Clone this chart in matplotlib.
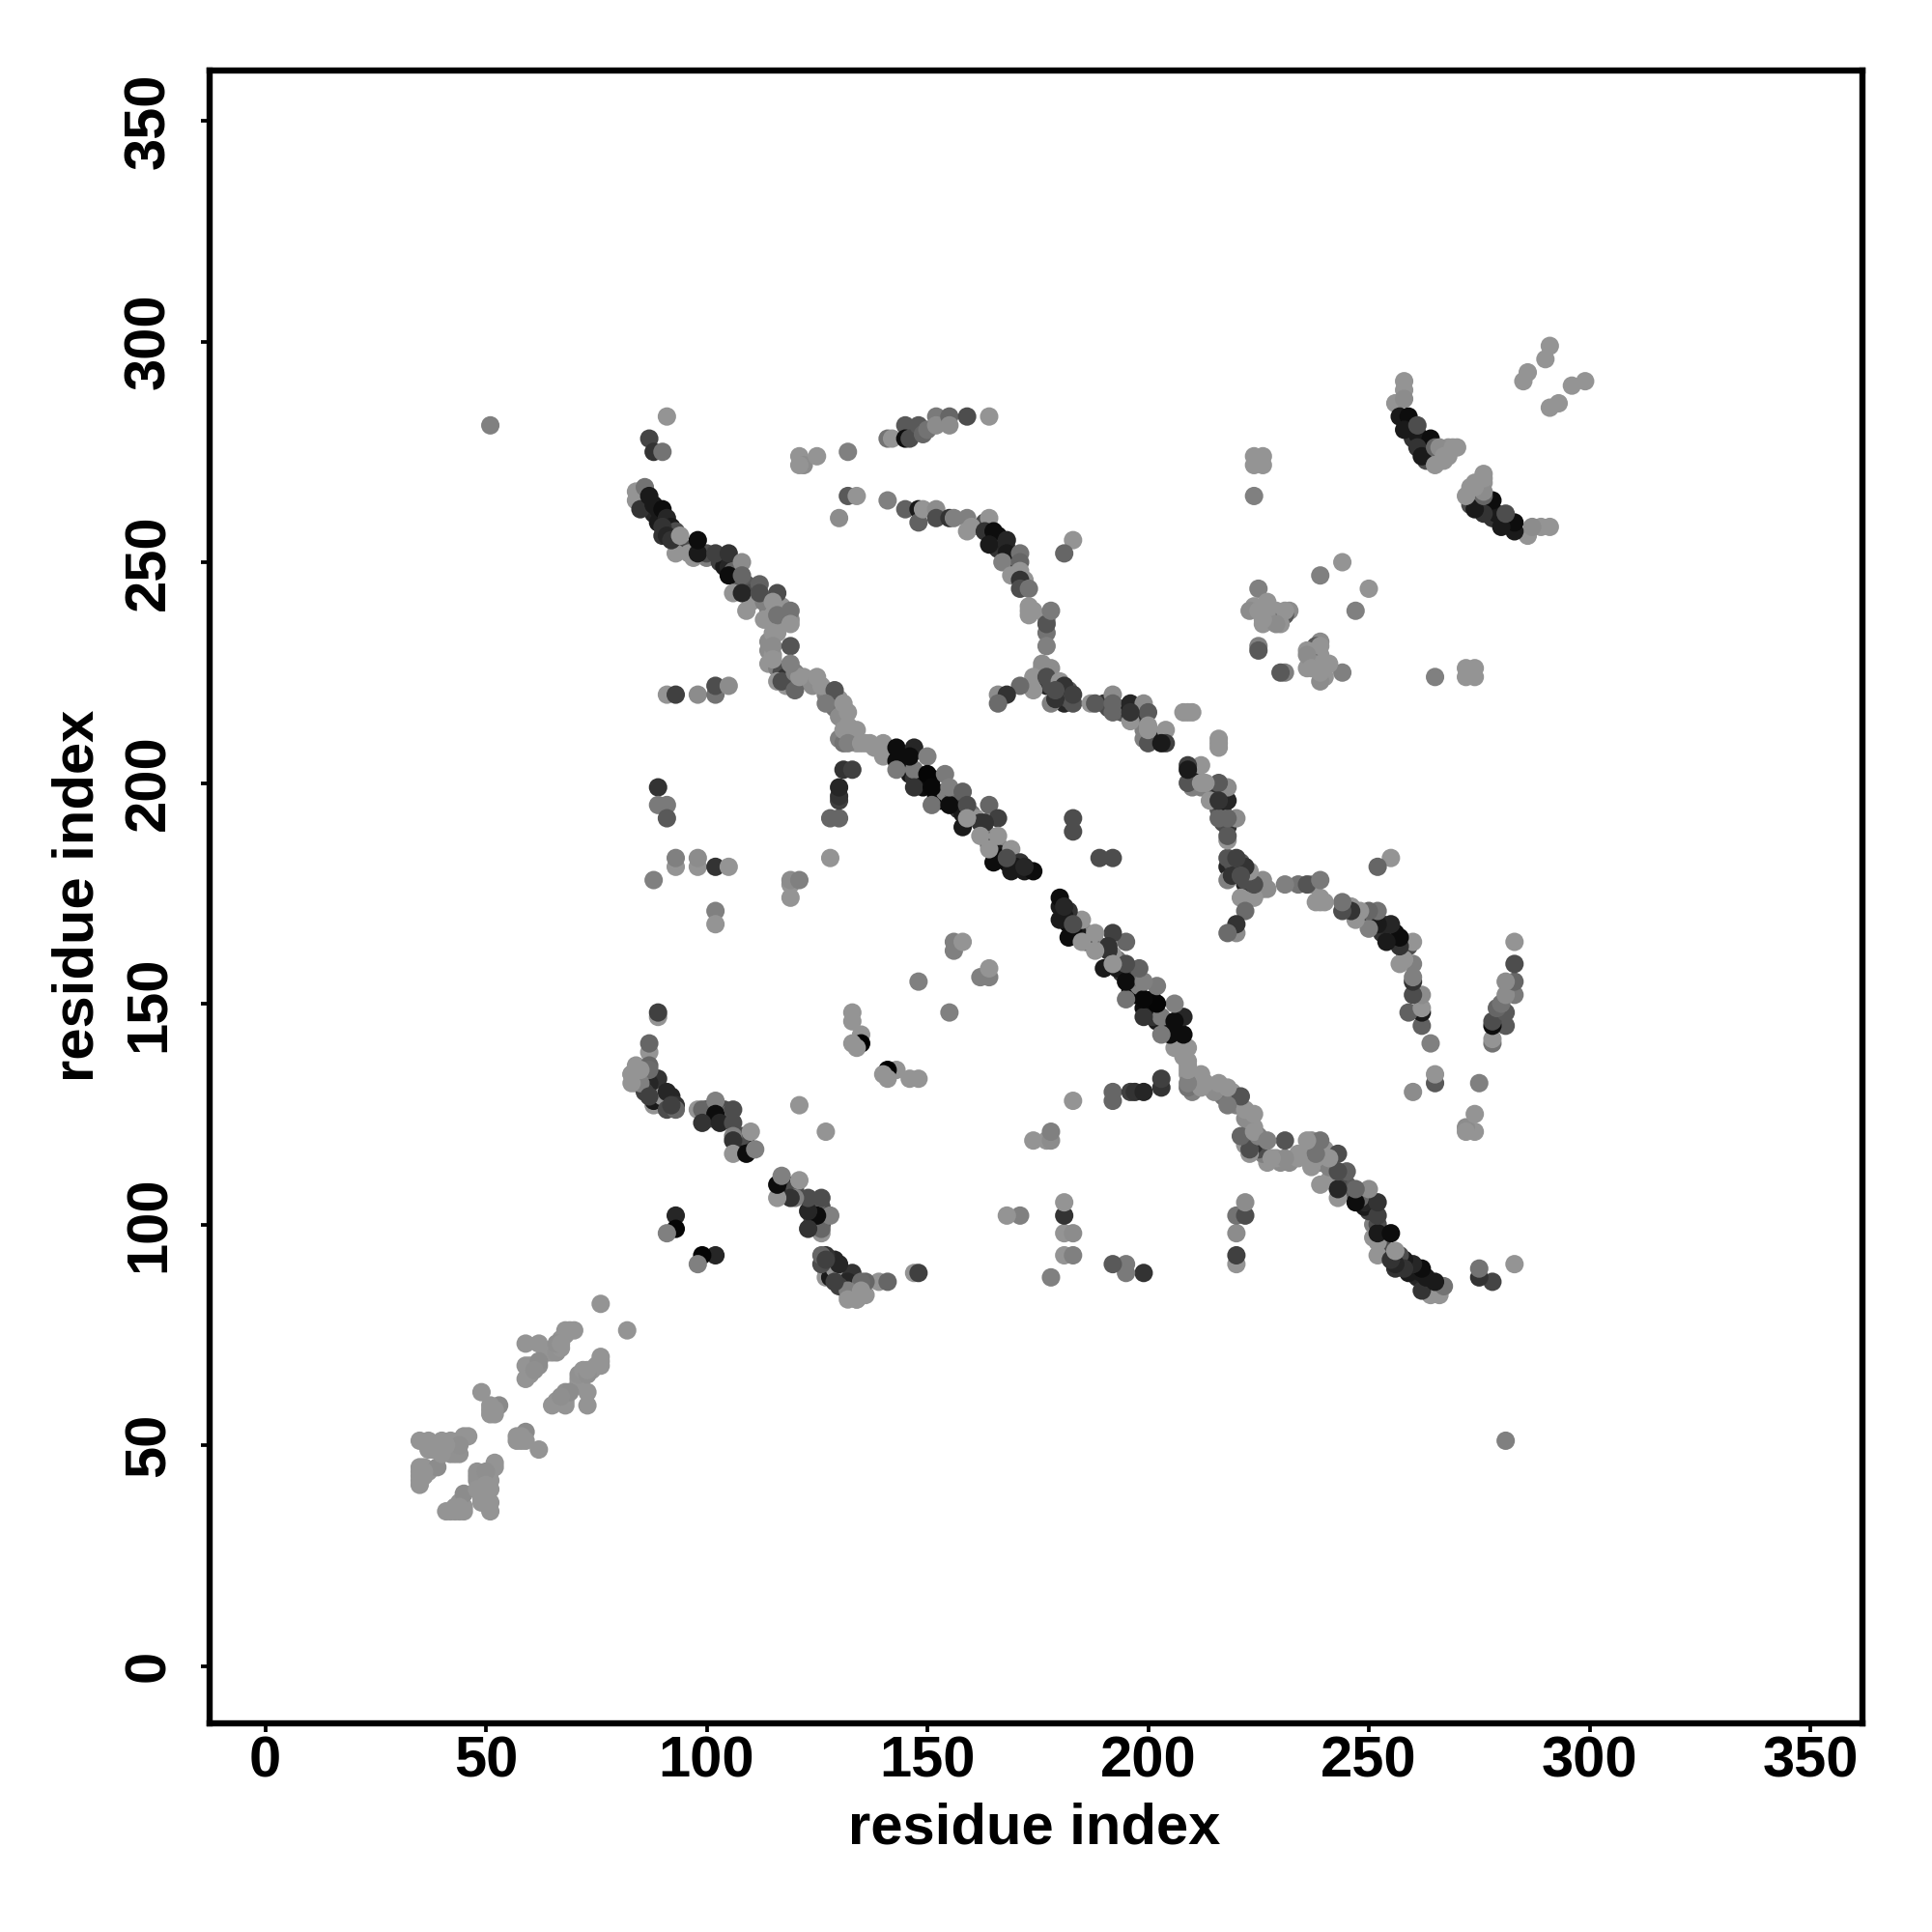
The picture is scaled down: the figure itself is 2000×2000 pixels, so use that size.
import matplotlib
matplotlib.use("Agg")
import matplotlib.pyplot as plt

# main anti-diagonal strand (upper triangle; the map is symmetric)
main_i = [84,84,85,97,93,86,85,87,88,90, 91,92,93,90,91,92,94,98,98,102, 105,105,108,108,106,108,112,112,116,109,
          113,115,116,115,119,119,115,115,116,117, 119,120,120,121,125,126,129,127,131,132, 119,131,131,134,132,135,140,140,143,143,
          143,147,147,147,146,150,150,151,151,154, 155,155,158,159,158,159,164,166,163,162, 166,165,164,169,169,171,174,170,172,168]
main_j = [264,266,265,251,252,267,262,265,263,262, 260,258,257,258,256,255,256,252,255,252, 252,247,250,247,243,243,245,243,243,239,
          237,241,238,234,239,236,231,228,223,223, 231,221,225,224,224,222,221,218,218,216, 227,209,212,212,209,209,206,209,205,208,
          203,208,203,199,206,206,202,199,195,202, 195,199,198,195,190,192,195,192,191,188, 188,182,185,180,185,182,180,181,181,183]
main_g = [.58,.58,.58,.58,.58,.45,.2,.1,.1,.05, .15,.1,.3,.2,.15,.2,.58,.1,.05,.25, .2,.05,.55,.4,.58,.15,.38,.3,.3,.58,
          .58,.58,.45,.58,.45,.58,.55,.58,.58,.3, .33,.4,.5,.58,.58,.58,.33,.48,.58,.58, .5,.45,.58,.58,.5,.58,.58,.58,.05,.05,
          .48,.15,.48,.2,.05,.5,.02,.03,.45,.48, .05,.5,.38,.3,.1,.58,.4,.25,.2,.58, .58,.05,.58,.1,.58,.2,.05,.1,.15,.3]

# further contacts hidden between the visible ones of the main strand
main2_i = [88,89,89,90,91,93,94,95,96,100, 100,103,104,105,106,107,109,110,110,113, 114,115,115,117,118,119,116,114,114,115,
           114,116,117,118,118,119,120,122,123,124, 127,128,130,129,130,131,132,130,133,134, 136,137,138,145,146,147,148,149,151,152,
           153,154,155,156,157,158,160,161,162,163, 164,165,164,166,166,167,168,169,170,172]
main2_j = [261,262,259,256,258,255,254,253,252,251, 252,250,249,249,248,246,245,243,241,241, 239,238,236,240,238,237,234,232,230,229,
           227,226,225,224,222,223,223,224,223,222, 220,219,219,217,215,214,213,210,210,209, 209,209,208,204,202,201,200,199,201,197,
           196,198,197,197,194,193,193,192,191,189, 188,187,186,186,184,183,182,182,182,180]
main2_g = [.15,.1,.1,.2,.1,.15,.1,.3,.58,.5, .3,.25,.1,.15,.4,.35,.35,.3,.58,.5, .5,.58,.58,.58,.58,.55,.58,.55,.55,.58,
           .58,.5,.3,.2,.58,.4,.5,.58,.58,.55, .5,.58,.58,.45,.55,.55,.58,.5,.55,.58, .58,.58,.58,.1,.1,.2,.1,.05,.03,.03,
           .05,.5,.5,.4,.2,.1,.45,.58,.2,.2, .5,.25,.2,.5,.1,.05,.05,.2,.05,.1]

# curved arc from (141,264) towards the diagonal
arc_i = [141,145,148,148,149,152,152,155,156,159, 159,160,164,163,165,164,168,168,167,171, 171,171,169,171,171,173,173,173,177,177,
         178,177,176,178,174,174,171,166,168,166, 177,178,179,180,181,179,183,183,187,188, 192,192,192,196,196,196,199,200,200,200,
         200,204,204,196,209,210,203,208]
arc_j = [264,262,262,259,262,262,260,260,260,260, 257,258,260,257,257,254,255,252,250,252, 250,248,247,246,244,244,240,238,237,236,
         239,231,227,226,224,221,222,220,220,218, 224,218,219,223,222,221,218,220,218,218, 220,218,216,218,215,214,218,216,213,209,
         212,212,209,216,216,216,209,216]
arc_g = [.5,.38,.1,.38,.58,.55,.3,.2,.5,.5, .58,.58,.58,.2,.05,.1,.15,.1,.5,.45, .4,.58,.58,.2,.3,.45,.58,.58,.58,.33,
         .48,.5,.55,.55,.58,.58,.42,.55,.2,.42, .3,.5,.2,.58,.2,.3,.33,.25,.58,.35, .55,.4,.4,.15,.2,.58,.55,.35,.58,.33,
         .58,.58,.25,.2,.58,.58,.1,.58]

arc2_i = [162,163,164,166,167,166,168,169,170,170, 172,173,174,177,176,177,178,180,181,181, 182,182,190,191,193,194,195,197,198,199,
          199,201,202]
arc2_j = [258,259,258,256,255,253,253,251,250,248, 246,239,239,234,226,222,222,220,218,220, 219,221,218,217,217,216,217,217,215,212,
          210,211,210]
arc2_g = [.2,.3,.15,.05,.1,.2,.15,.2,.25,.15, .58,.58,.58,.45,.5,.15,.3,.15,.15,.3, .3,.35,.2,.3,.4,.35,.1,.3,.2,.5,
          .5,.58,.1]

# lower strand
low_i = [89,89,87,87,84,87,83,84,85,88, 89,87,88,90,91,93,91,93,92,98, 99,102,102,99,103,106,106,106,106,110,
         106,109,111,87,86,85,85,83,83,87, 121]
low_j = [147,148,139,141,136,136,134,132,134,127, 133,132,128,129,130,127,126,126,127,126, 126,128,125,123,123,126,123,120,119,121,
         116,116,117,135,130,132,135,132,134,129, 127]
low_g = [.58,.25,.58,.4,.58,.4,.58,.58,.55,.58, .2,.15,.1,.58,.15,.2,.3,.4,.25,.58, .4,.5,.05,.2,.15,.3,.3,.5,.2,.58,
         .58,.05,.5,.42,.25,.5,.58,.58,.58,.25, .58]

low2_i = [86,85,86,86,87,88,88,89,89,90, 92,92,91,100,101,100,103,104,105,107, 107,108,109,108]
low2_j = [133,135,135,132,133,131,130,131,128,127, 129,127,128,124,124,126,126,126,125,119, 117,117,118,120]
low2_g = [.55,.5,.45,.3,.2,.1,.1,.15,.1,.2, .15,.2,.1,.05,.3,.15,.4,.3,.4,.3, .05,.05,.1,.3]

# scattered contacts
iso_i = [51,91,87,88,90,130,132,134,121,122, 121,125,132,141,142,145,145,146,148,149, 150,152,152,155,155,159,164,183,181,91,
         93,98,102,102,105,89,89,91,91,128, 130,130,130,130,131,133,183,183,128,93, 93,98,98,102,105,88,102,102,119,119,
         119,121,156,156,158,148,133,133,135,135, 133,134,93,93,91]
iso_j = [281,283,278,275,275,260,265,265,274,272, 272,274,275,278,278,281,278,278,281,279, 280,283,281,283,281,283,283,255,252,220,
         220,220,220,222,222,199,195,195,192,192, 192,196,197,199,203,203,192,189,183,181, 183,181,183,181,181,178,171,168,174,177,
         178,178,162,164,164,155,148,146,143,141, 141,140,102,99,98]
iso_g = [.5,.58,.27,.2,.45,.55,.35,.58,.58,.55, .58,.58,.5,.45,.58,.35,.05,.3,.35,.4, .45,.48,.55,.4,.55,.3,.58,.58,.4,.58,
         .25,.55,.45,.3,.55,.2,.48,.48,.35,.4, .4,.25,.2,.15,.2,.25,.3,.3,.58,.58, .5,.58,.55,.2,.58,.5,.5,.58,.58,.58,
         .55,.5,.5,.5,.58,.5,.58,.58,.58,.0, .58,.58,.15,.02,.5]

# upper-right clusters and strand
up_i = [224,226,224,226,224,225,223,227,225,227, 226,232,231,231,230,229,226,225,225,256, 258,258,258,257,259,258,261,264,261,262,
        265,265,266,267,269,270,239,244,290,291, 285,286]
up_j = [274,274,272,272,265,244,239,241,239,239, 236,239,238,239,236,236,237,231,230,286, 291,289,287,283,283,280,281,278,276,274,
        276,272,276,274,276,276,247,250,296,299, 291,293]
up_g = [.58,.58,.58,.58,.5,.5,.55,.58,.58,.58, .58,.55,.35,.58,.58,.55,.58,.5,.35,.58, .58,.58,.55,.1,.05,.1,.3,.05,.2,.1,
        .4,.58,.55,.58,.58,.58,.5,.58,.58,.58, .58,.58]

up2_i = [259,260,260,261,262,263,263,264,265,263, 266,267,268,267,268,224,228,229,227,226]
up2_j = [281,280,278,279,277,277,275,274,274,273, 275,275,276,273,274,240,239,239,238,240]
up2_g = [.05,.1,.2,.1,.1,.1,.15,.15,.3,.3, .5,.58,.58,.58,.58,.58,.58,.58,.58,.58]

# near-diagonal cluster
near_i = [35,37,40,42,38,42,45,46,44,41, 49,51,53,51,59,62,59,59,62,61, 66,69,70,67,76,35,35,35,36,39,
          37,40,52,52,36]
near_j = [51,51,51,51,49,48,52,52,50,50, 62,57,59,59,73,73,65,68,69,67, 73,76,76,73,82,45,43,41,43,45,
          49,48,58,57,44]
near_g = [.58,.58,.58,.58,.58,.57,.58,.58,.56,.58, .58,.58,.54,.58,.58,.58,.58,.58,.55,.56, .56,.58,.58,.58,.58,.58,.58,.58,.58,.55,
          .58,.58,.58,.58,.58]

near2_i = [35,35,36,37,39,43,43,44,44,51, 60,61,60,62,64,65,66,67,68,68, 67]
near2_j = [42,44,45,44,50,50,48,48,51,58, 68,68,66,68,71,71,71,74,75,76, 72]
near2_g = [.58,.58,.58,.58,.58,.58,.57,.57,.58,.58, .58,.58,.58,.56,.58,.58,.57,.58,.58,.58, .58]

tick_values = [0, 50, 100, 150, 200, 250, 300, 350]
axis_label = "residue index"

# hidden contacts are drawn first, the ones on top last
all_i = main2_i + arc2_i + low2_i + up2_i + near2_i + main_i + arc_i + low_i + iso_i + up_i + near_i
all_j = main2_j + arc2_j + low2_j + up2_j + near2_j + main_j + arc_j + low_j + iso_j + up_j + near_j
all_g = main2_g + arc2_g + low2_g + up2_g + near2_g + main_g + arc_g + low_g + iso_g + up_g + near_g
assert len(all_i) == len(all_j) == len(all_g), (len(all_i), len(all_j), len(all_g))

F = "Liberation Sans"
fig = plt.figure(figsize=(20, 20), dpi=100)
L, R, T, B = 216.5, 1927.5, 72.5, 1783.5
ax = fig.add_axes([L/2000, 1-B/2000, (R-L)/2000, (B-T)/2000])
cols = [str(g) for g in all_g]
ax.scatter(all_i + all_j, all_j + all_i, s=188, c=cols + cols, linewidths=0, zorder=3)
ax.set_xlim((L-274.5)/4.57, (R-274.5)/4.57)
ax.set_ylim((1724.5-B)/4.57, (1724.5-T)/4.57)
for s in ax.spines.values():
    s.set_linewidth(4.6)
ax.set_xticks(tick_values)
ax.set_yticks(tick_values)
ax.tick_params(axis="x", length=6.5, width=2.7, pad=3)
ax.tick_params(axis="y", length=6.5, width=2.7, pad=18)
ax.set_xticklabels(tick_values, fontfamily=F, fontweight="bold", fontsize=43)
ax.set_yticklabels(tick_values, fontfamily=F, fontweight="bold", fontsize=43, rotation=90, va="center")
fig.text(1071/2000, 1-1893/2000, axis_label, fontfamily=F, fontweight="bold", fontsize=43, ha="center", va="center")
fig.text(81/2000, 1-927/2000, axis_label, fontfamily=F, fontweight="bold", fontsize=43, ha="center", va="center", rotation=90)
fig.savefig("out.png", dpi=100, facecolor="white")
